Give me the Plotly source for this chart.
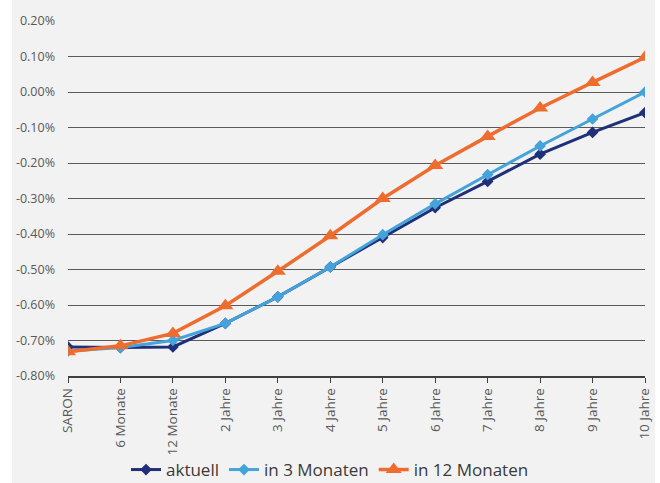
import plotly.graph_objects as go

categories = ["SARON", "6 Monate", "12 Monate", "2 Jahre", "3 Jahre", "4 Jahre",
              "5 Jahre", "6 Jahre", "7 Jahre", "8 Jahre", "9 Jahre", "10 Jahre"]
aktuell = [-0.718, -0.720, -0.718, -0.652, -0.577, -0.493, -0.410, -0.326, -0.252, -0.175, -0.114, -0.058]
in_3_monaten = [-0.730, -0.720, -0.700, -0.652, -0.577, -0.493, -0.402, -0.315, -0.233, -0.152, -0.076, 0.000]
in_12_monaten = [-0.732, -0.715, -0.680, -0.602, -0.505, -0.405, -0.300, -0.207, -0.125, -0.045, 0.027, 0.098]
y_ticks = [0.2, 0.1, 0.0, -0.1, -0.2, -0.3, -0.4, -0.5, -0.6, -0.7, -0.8]
y_tick_labels = ["0.20%", "0.10%", "0.00%", "-0.10%", "-0.20%", "-0.30%",
                 "-0.40%", "-0.50%", "-0.60%", "-0.70%", "-0.80%"]

FONT = "Open Sans"

fig = go.Figure()
fig.add_trace(go.Scatter(x=categories, y=aktuell, name="aktuell", mode="lines+markers",
                         line=dict(color="#1f2f78", width=3),
                         marker=dict(symbol="diamond", size=9, color="#1f2f78")))
fig.add_trace(go.Scatter(x=categories, y=in_3_monaten, name="in 3 Monaten", mode="lines+markers",
                         line=dict(color="#43a3da", width=3),
                         marker=dict(symbol="diamond", size=9, color="#43a3da")))
fig.add_trace(go.Scatter(x=categories, y=in_12_monaten, name="in 12 Monaten", mode="lines+markers",
                         line=dict(color="#ef6c2f", width=3.5),
                         marker=dict(symbol="triangle-up", size=14, color="#ef6c2f")))

L, R, T, B = 68, 15, 21, 107
W, H = 660, 483
pw, ph = W - L - R, H - T - B

fig.add_shape(type="rect", xref="paper", yref="paper", layer="below",
              x0=(12 - L) / pw, x1=(655 - L) / pw, y0=-(B + 5) / ph, y1=1 + (T + 5) / ph,
              fillcolor="#f2f2f2", line=dict(width=0))

fig.update_layout(
    width=W, height=H,
    margin=dict(l=L, r=R, t=T, b=B, autoexpand=False),
    paper_bgcolor="white", plot_bgcolor="rgba(0,0,0,0)",
    font=dict(family=FONT, color="#595959", size=12),
    showlegend=True,
    legend=dict(orientation="h", x=0.5, xanchor="center", xref="container",
                y=13 / H, yanchor="middle", yref="container",
                font=dict(size=17, color="#3a3a3a"), tracegroupgap=0,
                bgcolor="rgba(0,0,0,0)"),
    xaxis=dict(type="category", tickangle=-90, showgrid=False, showline=True,
               linecolor="#404040", linewidth=1.5, ticks="outside", ticklen=5,
               tickcolor="#404040", range=[0, 11], zeroline=False, automargin=False,
               tickfont=dict(size=13.5, color="#595959")),
    yaxis=dict(range=[-0.8, 0.2], tickvals=y_ticks, ticktext=y_tick_labels,
               showgrid=True, gridcolor="#5a5a5a", gridwidth=1, zeroline=False,
               showline=False, ticks="", ticklabelstandoff=12, automargin=False,
               tickfont=dict(size=12.5, color="#595959")),
)

fig.write_html("out.html")
